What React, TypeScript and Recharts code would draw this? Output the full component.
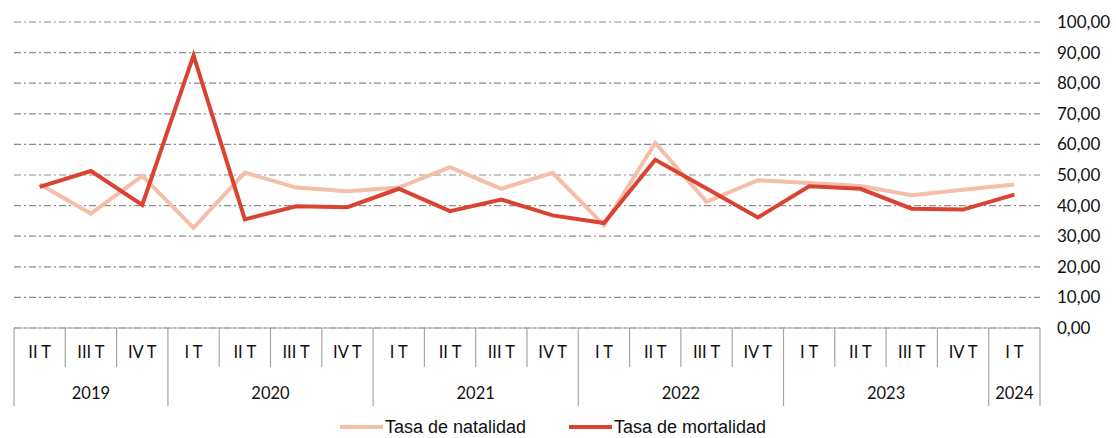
import React from 'react';
import { LineChart, Line, XAxis, YAxis, CartesianGrid } from 'recharts';

const QUARTERS = ['II T', 'III T', 'IV T', 'I T', 'II T', 'III T', 'IV T', 'I T', 'II T', 'III T', 'IV T', 'I T', 'II T', 'III T', 'IV T', 'I T', 'II T', 'III T', 'IV T', 'I T'];
const YEARS = ['2019', '2020', '2021', '2022', '2023', '2024'];
const YEAR_SPANS = [3, 4, 4, 4, 4, 1];
const NATALIDAD = [47.0, 37.4, 49.7, 32.7, 50.8, 45.9, 44.7, 45.9, 52.6, 45.5, 50.7, 33.6, 60.5, 41.2, 48.3, 47.4, 46.4, 43.4, 45.2, 46.9];
const MORTALIDAD = [46.1, 51.3, 40.2, 89.1, 35.5, 39.8, 39.5, 45.5, 38.2, 42.0, 36.8, 34.3, 55.0, 45.6, 36.1, 46.3, 45.5, 39.0, 38.7, 43.6];
const Y_TICKS = [0, 10, 20, 30, 40, 50, 60, 70, 80, 90, 100];
const SERIES_NAMES = ['Tasa de natalidad', 'Tasa de mortalidad'];

const W = 1116;
const H = 438;
const PLOT_LEFT = 14;
const PLOT_RIGHT = 1040;
const PLOT_TOP = 22;
const PLOT_BOTTOM = 328;
const BAND = (PLOT_RIGHT - PLOT_LEFT) / QUARTERS.length;
const AXIS_COLOR = '#A6A6A6';
const NAT_COLOR = '#F4BFA9';
const MORT_COLOR = '#DA4331';

const data = QUARTERS.map((q, i) => ({ idx: i, q, nat: NATALIDAD[i], mort: MORTALIDAD[i] }));

const yearStart: Record<number, number> = {};
const yearEnd: Record<number, boolean> = {};
{
  let c = 0;
  YEAR_SPANS.forEach((s, yi) => {
    yearStart[c] = yi;
    yearEnd[c + s - 1] = true;
    c += s;
  });
}

const XTick = (props: any) => {
  const { x, payload } = props;
  const i = typeof payload.index === 'number' ? payload.index : Number(payload.value);
  const els: any[] = [];
  els.push(
    <text key="q" x={x} y={358} textAnchor="middle" fontFamily="Lato" fontSize={16.5} fill="#111">
      {QUARTERS[i]}
    </text>
  );
  els.push(
    <line key="r" x1={x + BAND / 2} x2={x + BAND / 2} y1={PLOT_BOTTOM} y2={yearEnd[i] ? 406 : 367} stroke={AXIS_COLOR} strokeWidth={1.2} />
  );
  if (i === 0) {
    els.push(<line key="l" x1={x - BAND / 2} x2={x - BAND / 2} y1={PLOT_BOTTOM} y2={406} stroke={AXIS_COLOR} strokeWidth={1.2} />);
  }
  if (yearStart[i] !== undefined) {
    const yi = yearStart[i];
    const cx = x - BAND / 2 + (YEAR_SPANS[yi] * BAND) / 2;
    els.push(
      <text key="y" x={cx} y={399} textAnchor="middle" fontFamily="Lato" fontSize={16.5} fill="#111">
        {YEARS[yi]}
      </text>
    );
  }
  return <g>{els}</g>;
};

const YTick = (props: any) => {
  const { y, payload } = props;
  return (
    <text x={1057} y={y + 6} textAnchor="start" fontFamily="Lato" fontSize={17} fill="#111">
      {Number(payload.value).toFixed(2).replace('.', ',')}
    </text>
  );
};

export default function App() {
  return (
    <div style={{ position: 'absolute', left: 0, top: 0, width: W, height: H, background: '#fff' }}>
      <LineChart
        width={W}
        height={H}
        data={data}
        margin={{ top: PLOT_TOP, left: PLOT_LEFT, right: 0, bottom: H - PLOT_BOTTOM - 80 }}
      >
        <CartesianGrid vertical={false} stroke="#8C8C8C" strokeDasharray="7 3 2 3" strokeWidth={1.2} />
        <XAxis
          dataKey="idx"
          type="category"
          scale="band"
          interval={0}
          height={80}
          tickLine={false}
          axisLine={{ stroke: AXIS_COLOR, strokeWidth: 1.2 }}
          tick={XTick}
        />
        <YAxis
          orientation="right"
          width={W - PLOT_RIGHT}
          domain={[0, 100]}
          ticks={Y_TICKS}
          axisLine={false}
          tickLine={false}
          tick={YTick}
        />
        <Line type="linear" dataKey="nat" name={SERIES_NAMES[0]} stroke={NAT_COLOR} strokeWidth={4} dot={false} isAnimationActive={false} />
        <Line type="linear" dataKey="mort" name={SERIES_NAMES[1]} stroke={MORT_COLOR} strokeWidth={4} dot={false} isAnimationActive={false} />
      </LineChart>
      {[
        { name: SERIES_NAMES[0], color: NAT_COLOR, left: 340 },
        { name: SERIES_NAMES[1], color: MORT_COLOR, left: 569 },
      ].map((it) => (
        <div
          key={it.name}
          style={{
            position: 'absolute',
            left: it.left,
            top: 418,
            height: 18,
            display: 'flex',
            alignItems: 'center',
            fontFamily: '"Liberation Sans", Arial, sans-serif',
            fontSize: 18,
            lineHeight: '18px',
            color: '#111',
            whiteSpace: 'nowrap',
          }}
        >
          <span style={{ display: 'inline-block', width: 43, height: 4, background: it.color, marginRight: 2 }} />
          <span>{it.name}</span>
        </div>
      ))}
    </div>
  );
}
